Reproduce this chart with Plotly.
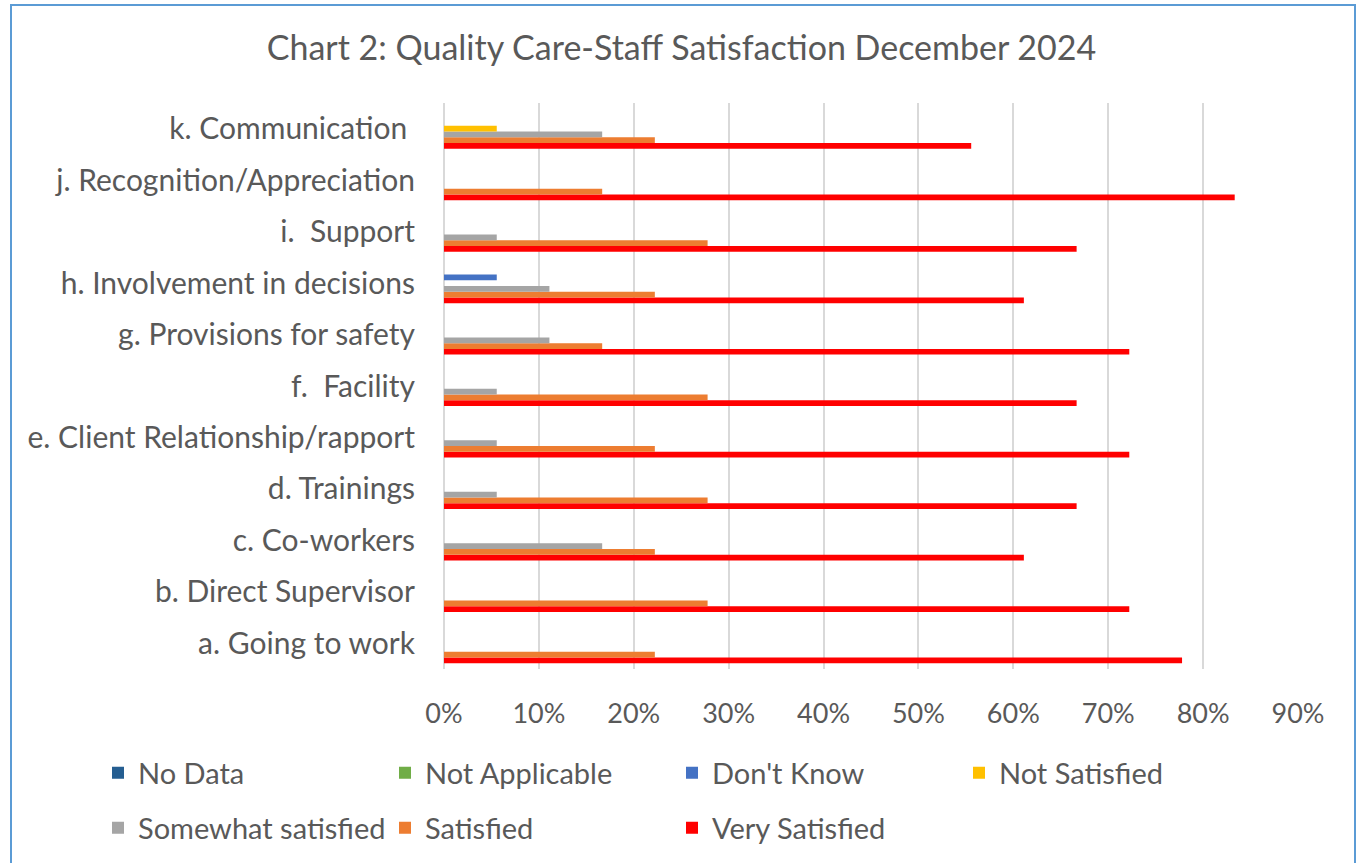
import plotly.graph_objects as go

categories = [
    "a. Going to work",
    "b. Direct Supervisor",
    "c. Co-workers",
    "d. Trainings",
    "e. Client Relationship/rapport",
    "f.  Facility",
    "g. Provisions for safety",
    "h. Involvement in decisions",
    "i.  Support",
    "j. Recognition/Appreciation",
    "k. Communication ",
]

# percent of respondents per category (a .. k)
no_data = [0, 0, 0, 0, 0, 0, 0, 0, 0, 0, 0]
not_applicable = [0, 0, 0, 0, 0, 0, 0, 0, 0, 0, 0]
dont_know = [0, 0, 0, 0, 0, 0, 0, 5.56, 0, 0, 0]
not_satisfied = [0, 0, 0, 0, 0, 0, 0, 0, 0, 0, 5.56]
somewhat_satisfied = [0, 0, 16.67, 5.56, 5.56, 5.56, 11.11, 11.11, 5.56, 0, 16.67]
satisfied = [22.22, 27.78, 22.22, 27.78, 22.22, 27.78, 16.67, 22.22, 27.78, 16.67, 22.22]
very_satisfied = [77.78, 72.22, 61.11, 66.67, 72.22, 66.67, 72.22, 61.11, 66.67, 83.33, 55.56]

x_ticks = [0, 10, 20, 30, 40, 50, 60, 70, 80, 90]
x_tick_labels = ["0%", "10%", "20%", "30%", "40%", "50%", "60%", "70%", "80%", "90%"]

# name, values, colour, legend, rank  (listed bottom-to-top within a group)
series = [
    ("Very Satisfied", very_satisfied, "#FF0000", "legend2", 3),
    ("Satisfied", satisfied, "#ED7D31", "legend2", 2),
    ("Somewhat satisfied", somewhat_satisfied, "#A5A5A5", "legend2", 1),
    ("Not Satisfied", not_satisfied, "#FFC000", "legend", 4),
    ("Don't Know", dont_know, "#4472C4", "legend", 3),
    ("Not Applicable", not_applicable, "#70AD47", "legend", 2),
    ("No Data", no_data, "#255E91", "legend", 1),
]

TEXT = "#595959"
FONT = "Lato"

fig = go.Figure()
for name, vals, color, leg, rank in series:
    fig.add_trace(go.Bar(
        y=categories,
        x=vals,
        name=name,
        orientation="h",
        marker=dict(color=color, line=dict(width=0)),
        legend=leg,
        legendrank=rank,
    ))

W, H = 1363, 863
L, R, T, B = 444, 65, 103, 194
pw, ph = W - L - R, H - T - B

# legends sit below the plot area, positioned in paper units
legend_common = dict(
    orientation="h",
    xref="paper", yref="paper",
    x=(98 - L) / pw, xanchor="left",
    yanchor="middle",
    entrywidth=242, entrywidthmode="pixels",
    font=dict(size=29, color=TEXT),
    bgcolor="rgba(0,0,0,0)",
)

fig.update_layout(
    width=W,
    height=H,
    margin=dict(l=L, r=R, t=T, b=B, autoexpand=False),
    barmode="group",
    bargap=0.22,
    bargroupgap=0,
    plot_bgcolor="white",
    paper_bgcolor="white",
    font=dict(family=FONT, size=29, color=TEXT),
    title=dict(
        text="Chart 2: Quality Care-Staff Satisfaction December 2024",
        font=dict(family=FONT, size=34, color=TEXT),
        x=0.5, xref="container", xanchor="center",
        y=1 - 48 / H, yref="container", yanchor="middle",
    ),
    xaxis=dict(
        range=[0, 90],
        tickmode="array",
        tickvals=x_ticks,
        ticktext=x_tick_labels,
        showgrid=True,
        gridcolor="#D9D9D9",
        gridwidth=1.5,
        zeroline=True,
        zerolinecolor="#D9D9D9",
        zerolinewidth=1.5,
        showline=False,
        ticks="",
        ticklabelstandoff=26,
        tickfont=dict(size=27, color=TEXT),
        fixedrange=True,
    ),
    yaxis=dict(
        showgrid=False,
        showline=False,
        ticks="",
        ticklabelstandoff=28,
        tickfont=dict(size=30, color=TEXT),
        fixedrange=True,
    ),
    legend=dict(legend_common, y=(H - B - 773) / ph),
    legend2=dict(legend_common, y=(H - B - 828) / ph),
    shapes=[dict(
        type="rect", xref="paper", yref="paper",
        x0=(11 - L) / pw, x1=(1355 - L) / pw,
        y0=(H - B - 875) / ph, y1=(H - B - 5) / ph,
        line=dict(color="#5B9BD5", width=2),
        fillcolor="rgba(0,0,0,0)",
        layer="below",
    )],
)

fig.write_html("out.html", config={"displayModeBar": False},
               post_script="document.body.style.margin='0';")
